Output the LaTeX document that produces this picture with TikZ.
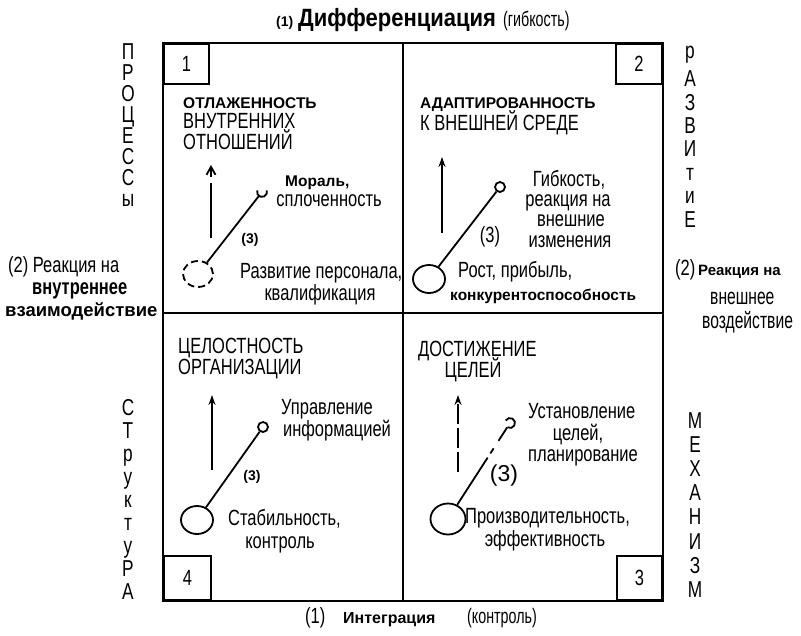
\documentclass[tikz,border=0pt]{standalone}
\usepackage{fontspec}
\setmainfont{Liberation Sans}
\newfontfamily\nar[FakeStretch=0.75]{Liberation Sans}
\newfontfamily\narr[FakeStretch=0.68]{Liberation Sans}
\newfontfamily\narb[FakeStretch=0.88]{Liberation Sans}
\usetikzlibrary{shapes.geometric,arrows.meta}
\begin{document}
\begin{tikzpicture}[x=1pt,y=-1pt,
  lab/.style={inner sep=0pt, font=\nar\fontsize{22}{22}\selectfont},
  bsm/.style={inner sep=0pt, font=\rmfamily\bfseries\fontsize{15.5}{15.5}\selectfont},
  vlet/.style={inner sep=0pt, anchor=base, font=\nar\fontsize{23}{23}\selectfont},
  frame/.style={line width=2.5pt},
  numbox/.style={draw, line width=2pt},
  conn/.style={line width=1.8pt},
  big/.style={ellipse, draw, line width=1.8pt, minimum width=31pt, minimum height=27pt, inner sep=0pt},
  small/.style={circle, draw, line width=1.8pt, minimum size=10pt, inner sep=0pt},
  cup/.style={circle, minimum size=10pt, inner sep=0pt},
  up/.style={line width=2pt, -{Stealth[length=10pt,width=7pt]}},
]
\useasboundingbox (0,0) rectangle (801,635);
% frame
\draw[frame] (163,43) rectangle (663,601);
\draw[frame] (403,43) -- (403,601);
\draw[frame] (163,313) -- (663,313);
% number boxes
\node[lab, numbox, anchor=north west, minimum width=45pt, minimum height=40pt] (n1) at (163,43) {1};
\node[lab, numbox, anchor=north east, minimum width=46pt, minimum height=40pt] (n2) at (663,43) {2};
\node[lab, numbox, anchor=south west, minimum width=47pt, minimum height=44pt] (n4) at (163,601) {4};
\node[lab, numbox, anchor=south east, minimum width=45pt, minimum height=44pt] (n3) at (663,601) {3};
% top and bottom titles
\node[bsm, anchor=base west, font=\rmfamily\bfseries\fontsize{14}{14}\selectfont] (tt1) at (276,26) {(1)};
\node[inner sep=0pt, anchor=base west, font=\narb\bfseries\fontsize{25}{25}\selectfont] (tt2) at (298,26) {Дифференциация};
\node[inner sep=0pt, anchor=base west, font=\narr\fontsize{21}{21}\selectfont] (tt3) at (503,26) {(гибкость)};
\node[lab, anchor=base west] (bt1) at (305,623) {(1)};
\node[bsm, anchor=base west, font=\rmfamily\bfseries\fontsize{16}{16}\selectfont] (bt2) at (343,623) {Интеграция};
\node[inner sep=0pt, anchor=base west, font=\narr\fontsize{21}{21}\selectfont] (bt3) at (467,623) {(контроль)};
% left middle
\node[lab, anchor=base west] (lm1) at (8,272) {(2) Реакция на};
\node[lab, anchor=base west, font=\nar\bfseries\fontsize{22}{22}\selectfont] (lm2) at (32,294) {внутреннее};
\node[bsm, anchor=base west, font=\rmfamily\bfseries\fontsize{18.5}{18.5}\selectfont] (lm3) at (5,316) {взаимодействие};
% right middle
\node[inner sep=0pt, anchor=base west] (rm1) at (675,275) {{\nar\fontsize{22}{22}\selectfont (2)}~{\rmfamily\bfseries\fontsize{15}{15}\selectfont Реакция на}};
\node[inner sep=0pt, anchor=base west, font=\narr\fontsize{23}{23}\selectfont] (rm2) at (710,304) {внешнее};
\node[inner sep=0pt, anchor=base west, font=\narr\fontsize{23}{23}\selectfont] (rm3) at (702,328) {воздействие};
% vertical words
\foreach \ch/\yy [count=\i] in {П/59,Р/80,О/101,Ц/122,Е/143,С/164,С/185,ы/206}
  {\node[vlet] (pr\i) at (128,\yy) {\ch};}
\foreach \ch/\yy [count=\i] in {р/58,А/86,З/110,В/133,И/156,т/180,и/203,Е/227}
  {\node[vlet] (rz\i) at (690,\yy) {\ch};}
\foreach \ch/\yy [count=\i] in {С/415,Т/438,р/461,у/484,к/507,т/530,у/553,Р/576,А/599}
  {\node[vlet] (st\i) at (128,\yy) {\ch};}
\foreach \ch/\yy [count=\i] in {М/428,Е/452,Х/476,А/500,Н/524,И/549,З/573,М/597}
  {\node[vlet] (mh\i) at (695,\yy) {\ch};}
% ---------- Q1
\node[bsm, anchor=base west] (q1a) at (183,108) {ОТЛАЖЕННОСТЬ};
\node[lab, anchor=base west] (q1b) at (183,128) {ВНУТРЕННИХ};
\node[lab, anchor=base west] (q1c) at (183,149) {ОТНОШЕНИЙ};
\node[bsm, anchor=base west] (q1d) at (285,186) {Мораль,};
\node[lab, anchor=base] (q1e) at (329,206) {сплоченность};
\node[bsm, font=\rmfamily\bfseries\fontsize{14}{14}\selectfont] (q1f) at (250,240) {(3)};
\node[lab, anchor=base west] (q1g) at (240,278) {Развитие персонала,};
\node[lab, anchor=base] (q1h) at (320,300) {квалификация};
\node[cup] (c1) at (262,192) {};
\draw[conn] (c1) ++(200:5) arc[start angle=200, end angle=-20, radius=5];
\node[big, dash pattern=on 7pt off 4pt, minimum width=30pt, minimum height=26pt] (b1) at (198,274) {};
\draw[conn] (c1) -- (b1);
\coordinate (a1s) at (211,238);
\coordinate (a1e) at (211,165);
\draw[line width=1.8pt, -{Straight Barb[length=8pt,width=9pt]}, dash pattern=on 55pt off 6pt on 30pt] (a1s) -- (a1e);
% ---------- Q2
\node[bsm, anchor=base west] (q2a) at (420,108) {АДАПТИРОВАННОСТЬ};
\node[lab, anchor=base west] (q2b) at (420,130) {К ВНЕШНЕЙ СРЕДЕ};
\node[lab] (q2c) at (490,237) {(3)};
\node[lab, anchor=base] (q2d) at (569,186) {Гибкость,};
\node[lab, anchor=base] (q2e) at (568,206) {реакция на};
\node[lab, anchor=base] (q2f) at (571,226) {внешние};
\node[lab, anchor=base] (q2g) at (570,247) {изменения};
\node[lab, anchor=base west] (q2h) at (458,277) {Рост, прибыль,};
\node[bsm, anchor=base west] (q2i) at (450,300) {конкурентоспособность};
\node[small] (s2) at (500,187) {};
\node[big, minimum width=32pt, minimum height=28pt] (b2) at (429,279) {};
\draw[conn] (s2) -- (b2);
\coordinate (a2s) at (442,233);
\coordinate (a2e) at (442,157);
\draw[up] (a2s) -- (a2e);
% ---------- Q3
\node[lab, anchor=base west] (q3a) at (418,356) {ДОСТИЖЕНИЕ};
\node[lab, anchor=base] (q3b) at (473,377) {ЦЕЛЕЙ};
\node[inner sep=0pt, font=\rmfamily\fontsize{23}{23}\selectfont] (q3c) at (504,476) {(3)};
\node[lab, anchor=base west] (q3d) at (528,418) {Установление};
\node[lab, anchor=base] (q3e) at (578,440) {целей,};
\node[lab, anchor=base west] (q3f) at (528,461) {планирование};
\node[lab, anchor=base west] (q3g) at (465,523) {Производительность,};
\node[lab, anchor=base] (q3h) at (545,546) {эффективность};
\node[cup] (c3) at (510,423) {};
\draw[conn] (c3) ++(210:5) arc[start angle=210, end angle=480, radius=5];
\node[big, minimum width=35pt, minimum height=31pt] (b3) at (448,519) {};
\draw[conn, dash pattern=on 16pt off 9pt on 6pt off 5pt on 90pt] (c3) -- (b3);
\coordinate (a3s) at (458,472);
\coordinate (a3e) at (458,395);
\draw[up, dash pattern=on 20pt off 4pt] (a3s) -- (a3e);
% ---------- Q4
\node[lab, anchor=base west] (q4a) at (178,353) {ЦЕЛОСТНОСТЬ};
\node[lab, anchor=base west] (q4b) at (178,374) {ОРГАНИЗАЦИИ};
\node[lab, anchor=base] (q4c) at (327,414) {Управление};
\node[lab, anchor=base] (q4d) at (337,436) {информацией};
\node[bsm, font=\rmfamily\bfseries\fontsize{14}{14}\selectfont] (q4e) at (252,477) {(3)};
\node[lab, anchor=base west] (q4f) at (228,525) {Стабильность,};
\node[lab, anchor=base] (q4g) at (280,548) {контроль};
\node[small] (s4) at (263,427) {};
\node[big, minimum width=32pt, minimum height=28pt] (b4) at (197,520) {};
\draw[conn] (s4) -- (b4);
\coordinate (a4s) at (212,470);
\coordinate (a4e) at (212,395);
\draw[up] (a4s) -- (a4e);
\end{tikzpicture}
\end{document}
